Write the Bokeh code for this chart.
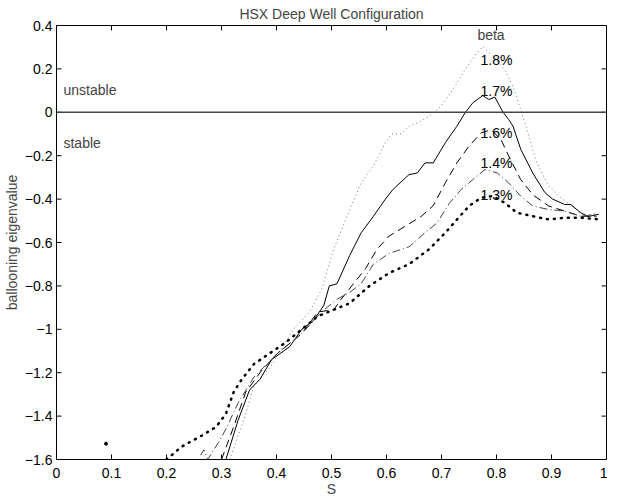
from bokeh.plotting import figure
from bokeh.models import Span, FixedTicker, Label
from bokeh.core.properties import value
from bokeh.embed import file_html
from bokeh.resources import INLINE

# ---- data ----
s_b18 = [0.315, 0.344, 0.359, 0.39, 0.431, 0.46, 0.482, 0.504, 0.533, 0.554, 0.576, 0.598, 0.609, 0.627, 0.641, 0.656,
         0.678, 0.699, 0.721, 0.743, 0.764, 0.775, 0.793, 0.815, 0.83, 0.844, 0.859, 0.873, 0.895, 0.917, 0.938, 0.96, 0.982]
ev_b18 = [-1.6, -1.39, -1.26, -1.17, -1.0, -0.92, -0.817, -0.63, -0.45, -0.325, -0.248, -0.14, -0.10, -0.10, -0.064, -0.049,
          -0.018, 0.028, 0.105, 0.197, 0.274, 0.302, 0.259, 0.197, 0.12, 0.013, -0.11, -0.233, -0.34, -0.394, -0.432, -0.479, -0.463]

s_b17 = [0.308, 0.33, 0.351, 0.37, 0.391, 0.424, 0.446, 0.467, 0.486, 0.496, 0.51, 0.533, 0.554, 0.576, 0.598, 0.612, 0.641,
         0.656, 0.67, 0.685, 0.707, 0.728, 0.743, 0.757, 0.775, 0.786, 0.797, 0.812, 0.822, 0.83, 0.844, 0.866, 0.888, 0.902,
         0.924, 0.935, 0.953, 0.967, 0.986]
ev_b17 = [-1.6, -1.42, -1.28, -1.23, -1.14, -1.08, -1.0, -0.96, -0.89, -0.80, -0.79, -0.66, -0.555, -0.48, -0.40, -0.355, -0.287,
          -0.28, -0.233, -0.233, -0.14, -0.064, -0.002, 0.044, 0.077, 0.059, 0.07, 0.0, -0.033, -0.064, -0.17, -0.28, -0.37, -0.40,
          -0.425, -0.425, -0.463, -0.48, -0.47]

s_b16 = [0.30, 0.322, 0.344, 0.373, 0.402, 0.446, 0.475, 0.504, 0.518, 0.54, 0.562, 0.583, 0.605, 0.634, 0.663, 0.685, 0.707,
         0.728, 0.75, 0.772, 0.79, 0.808, 0.822, 0.844, 0.866, 0.895, 0.924, 0.953, 0.982]
ev_b16 = [-1.6, -1.45, -1.29, -1.19, -1.11, -1.02, -0.92, -0.91, -0.86, -0.79, -0.72, -0.63, -0.57, -0.525, -0.48, -0.43, -0.325,
          -0.233, -0.156, -0.095, -0.08, -0.125, -0.20, -0.31, -0.38, -0.432, -0.455, -0.479, -0.479]

s_b14 = [0.262, 0.268, 0.275, 0.296, 0.308, 0.33, 0.359, 0.402, 0.446, 0.482, 0.511, 0.533, 0.554, 0.576, 0.605, 0.641, 0.67,
         0.692, 0.714, 0.736, 0.757, 0.779, 0.801, 0.822, 0.844, 0.866, 0.895, 0.924, 0.953, 0.982]
ev_b14 = [-1.58, -1.555, -1.6, -1.515, -1.46, -1.34, -1.22, -1.11, -1.02, -0.92, -0.86, -0.83, -0.79, -0.70, -0.65, -0.62, -0.555,
          -0.51, -0.42, -0.355, -0.31, -0.264, -0.279, -0.325, -0.386, -0.432, -0.448, -0.455, -0.479, -0.47]

s_b13 = [0.2, 0.228, 0.264, 0.29, 0.308, 0.322, 0.337, 0.359, 0.388, 0.417, 0.446, 0.475, 0.504, 0.533, 0.569, 0.605, 0.641,
         0.678, 0.707, 0.728, 0.75, 0.772, 0.793, 0.815, 0.837, 0.866, 0.895, 0.924, 0.953, 0.989]
ev_b13 = [-1.6, -1.54, -1.49, -1.45, -1.39, -1.29, -1.23, -1.16, -1.11, -1.06, -1.0, -0.94, -0.91, -0.88, -0.80, -0.74, -0.70,
          -0.63, -0.555, -0.494, -0.432, -0.394, -0.386, -0.417, -0.463, -0.479, -0.494, -0.486, -0.486, -0.494]

stray_s = [0.09]
stray_ev = [-1.527]

x_ticks = [0, 0.1, 0.2, 0.3, 0.4, 0.5, 0.6, 0.7, 0.8, 0.9, 1]
x_tick_labels = ["0", "0.1", "0.2", "0.3", "0.4", "0.5", "0.6", "0.7", "0.8", "0.9", "1"]
y_ticks = [-1.6, -1.4, -1.2, -1.0, -0.8, -0.6, -0.4, -0.2, 0, 0.2, 0.4]
y_tick_labels = ["\u22121.6", "\u22121.4", "\u22121.2", "\u22121", "\u22120.8", "\u22120.6", "\u22120.4", "\u22120.2",
                 "0", "0.2", "0.4"]

beta_labels = ["1.8%", "1.7%", "1.6%", "1.4%", "1.3%"]
beta_label_s = [0.80, 0.80, 0.80, 0.80, 0.80]
beta_label_ev = [0.243, 0.097, -0.095, -0.233, -0.38]

FONT = "Liberation Sans"
X0, X1, Y0, Y1 = 0.0, 1.0, -1.6, 0.4
FW, FH = 550, 434
TICK_PX = 5

p = figure(frame_width=FW, frame_height=FH, x_range=(X0, X1), y_range=(Y0, Y1),
           output_backend="svg", toolbar_location=None,
           min_border_left=56, min_border_right=1, min_border_top=25, min_border_bottom=35)
p.title.text = "HSX Deep Well Configuration"
p.title.align = "center"
p.title.text_font = FONT
p.title.text_font_style = "normal"
p.title.text_font_size = "14px"
p.title.standoff = 7
p.xgrid.visible = False
p.ygrid.visible = False
p.outline_line_color = "black"
p.outline_line_width = 1
p.background_fill_color = "white"
p.border_fill_color = "white"

for ax, ticks, labels in ((p.xaxis[0], x_ticks, x_tick_labels), (p.yaxis[0], y_ticks, y_tick_labels)):
    ax.ticker = FixedTicker(ticks=ticks)
    ax.major_label_overrides = {t: l for t, l in zip(ticks, labels)}
    ax.major_tick_in = 0
    ax.major_tick_out = 0
    ax.major_tick_line_color = None
    ax.minor_tick_line_color = None
    ax.axis_line_color = "black"
    ax.major_label_text_font = FONT
    ax.major_label_text_font_size = "14px"
    ax.major_label_text_color = "black"
    ax.axis_label_text_font = FONT
    ax.axis_label_text_font_size = "14px"
    ax.axis_label_text_font_style = "normal"

p.xaxis[0].axis_label = "S"
p.xaxis[0].axis_label_standoff = 0
p.xaxis[0].major_label_standoff = 8
p.yaxis[0].axis_label = "ballooning eigenvalue"
p.yaxis[0].axis_label_standoff = 2
p.yaxis[0].major_label_standoff = 4

# inward tick marks on all four sides (MATLAB box style), placed from the tick arrays
dx = TICK_PX * (X1 - X0) / FW
dy = TICK_PX * (Y1 - Y0) / FH
xt = x_ticks[1:-1]
yt = y_ticks[1:-1]
p.segment(x0=xt, y0=[Y0] * len(xt), x1=xt, y1=[Y0 + dy] * len(xt), line_color="black", line_width=1)
p.segment(x0=xt, y0=[Y1] * len(xt), x1=xt, y1=[Y1 - dy] * len(xt), line_color="black", line_width=1)
p.segment(x0=[X0] * len(yt), y0=yt, x1=[X0 + dx] * len(yt), y1=yt, line_color="black", line_width=1)
p.segment(x0=[X1] * len(yt), y0=yt, x1=[X1 - dx] * len(yt), y1=yt, line_color="black", line_width=1)

p.add_layout(Span(location=0, dimension="width", line_color="#444444", line_width=1.5))

p.line(s_b18, ev_b18, line_color="#777777", line_width=1, line_dash="1 3")
p.line(s_b17, ev_b17, line_color="black", line_width=1)
p.line(s_b16, ev_b16, line_color="black", line_width=1, line_dash="8 5")
p.line(s_b14, ev_b14, line_color="#444444", line_width=1, line_dash="8 3 1 3")
p.line(s_b13, ev_b13, line_color="black", line_width=2.5, line_dash="1 6", line_cap="round")
p.scatter(stray_s, stray_ev, size=3, color="black")

p.text(beta_label_s, beta_label_ev, text=beta_labels, text_font_size="14px",
       text_align="center", text_baseline="middle", text_color="black",
       text_font=value(FONT))

p.add_layout(Label(x=0.79, y=0.354, text="beta", text_align="center", text_baseline="middle",
                   text_font=FONT, text_font_size="14px"))
p.add_layout(Label(x=0.0127, y=0.104, text="unstable", text_align="left", text_baseline="middle",
                   text_font=FONT, text_font_size="14px"))
p.add_layout(Label(x=0.0127, y=-0.141, text="stable", text_align="left", text_baseline="middle",
                   text_font=FONT, text_font_size="14px"))

open("out.html", "w").write(file_html(p, INLINE))
